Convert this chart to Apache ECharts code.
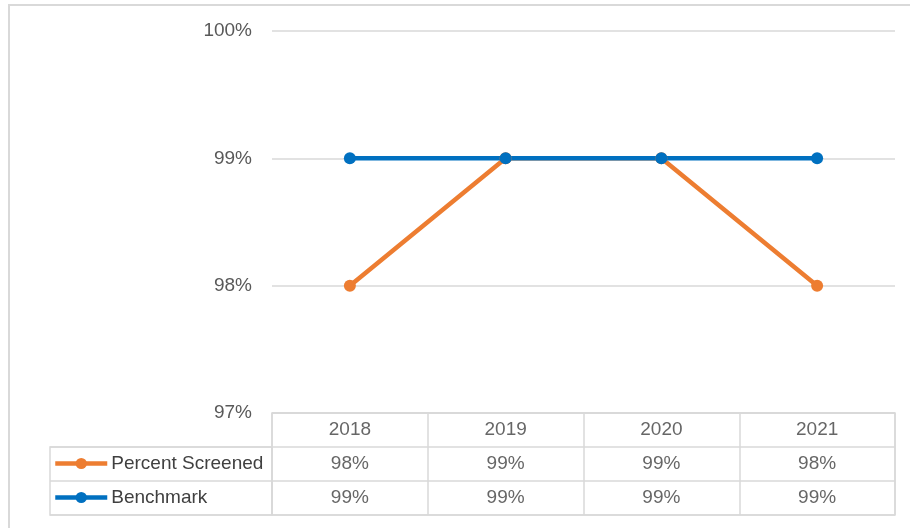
<!DOCTYPE html>
<html>
<head>
<meta charset="utf-8">
<script src="https://cdn.jsdelivr.net/npm/echarts@6/dist/echarts.min.js"></script>
<style>
  html, body { margin: 0; padding: 0; background: #fff; }
  #chart { width: 910px; height: 528px; }
</style>
</head>
<body>
<div id="chart"></div>
<script>
// data
const years = ['2018', '2019', '2020', '2021']
const seriesNames = ['Percent Screened', 'Benchmark']
const percentScreened = [98, 99, 99, 98]
const benchmark = [99, 99, 99, 99]
const colors = ['#ED7D31', '#0070C0']
const rows = ['head', seriesNames[0], seriesNames[1]]

const font = 'Liberation Sans, Arial, sans-serif'
const gridColor = '#d9d9d9'

// cells of the data table
const cells = []
years.forEach((y, i) => {
  cells.push({ value: [y, 'head'], text: y })
  cells.push({ value: [y, seriesNames[0]], text: percentScreened[i] + '%' })
  cells.push({ value: [y, seriesNames[1]], text: benchmark[i] + '%' })
})

const chart = echarts.init(document.getElementById('chart'))
const lineSeries = (name, data, color) => ({
  name,
  type: 'line',
  xAxisIndex: 0,
  yAxisIndex: 0,
  data,
  symbol: 'circle',
  symbolSize: 12,
  color,
  lineStyle: { width: 4.5, color },
  itemStyle: { color },
  z: 3,
})

const legendCommon = {
  left: 53, padding: 0, itemWidth: 52, itemHeight: 14, itemGap: 0,
  lineStyle: { width: 4.5 },
  textStyle: { fontFamily: font, fontSize: 19, color: '#404040', padding: [0, 0, 0, -1] },
  selectedMode: false,
}

chart.setOption({
  animation: false,
  graphic: [{
    type: 'rect',
    shape: { x: 9, y: 5, width: 1000, height: 600 },
    style: { fill: 'none', stroke: gridColor, lineWidth: 2 },
    silent: true,
  }],
  legend: [
    Object.assign({ data: [seriesNames[0]], top: 454 }, legendCommon),
    Object.assign({ data: [seriesNames[1]], top: 488 }, legendCommon),
  ],
  grid: [
    { left: 272, right: 15, top: 31, height: 382, containLabel: false },
    { left: 272, right: 15, top: 413, height: 102, show: true, borderColor: gridColor, borderWidth: 1.5 },
    { left: 50, width: 222, top: 447, height: 68, show: true, borderColor: gridColor, borderWidth: 1.5 },
  ],
  xAxis: [
    {
      gridIndex: 0, type: 'category', data: years, boundaryGap: true,
      axisLine: { show: false }, axisTick: { show: false }, axisLabel: { show: false },
    },
    {
      gridIndex: 1, type: 'category', data: years, boundaryGap: true,
      axisLine: { show: false }, axisTick: { show: false }, axisLabel: { show: false },
      splitLine: { show: true, lineStyle: { color: gridColor, width: 1.5 } },
    },
    {
      gridIndex: 2, type: 'value', show: false,
    },
  ],
  yAxis: [
    {
      gridIndex: 0, type: 'value', min: 97, max: 100, interval: 1,
      axisLine: { show: false }, axisTick: { show: false },
      axisLabel: { formatter: v => v + '%', color: '#595959', fontFamily: font, fontSize: 19, margin: 20 },
      splitLine: { lineStyle: { color: gridColor, width: 1.5 } },
    },
    {
      gridIndex: 1, type: 'category', data: rows, inverse: true, boundaryGap: true,
      axisLine: { show: false }, axisTick: { show: false }, axisLabel: { show: false },
      splitLine: { show: true, lineStyle: { color: gridColor, width: 1.5 } },
    },
    {
      gridIndex: 2, type: 'category', data: seriesNames, inverse: true, boundaryGap: true,
      axisLine: { show: false }, axisTick: { show: false }, axisLabel: { show: false },
      splitLine: { show: true, lineStyle: { color: gridColor, width: 1.5 } },
    },
  ],
  series: [
    lineSeries(seriesNames[0], percentScreened, colors[0]),
    lineSeries(seriesNames[1], benchmark, colors[1]),
    {
      type: 'scatter',
      xAxisIndex: 1,
      yAxisIndex: 1,
      data: cells,
      symbolSize: 0,
      silent: true,
      label: {
        show: true, position: 'inside',
        formatter: p => p.data.text,
        color: '#404040', fontFamily: font, fontSize: 19,
      },
    },
  ],
})
</script>
</body>
</html>
